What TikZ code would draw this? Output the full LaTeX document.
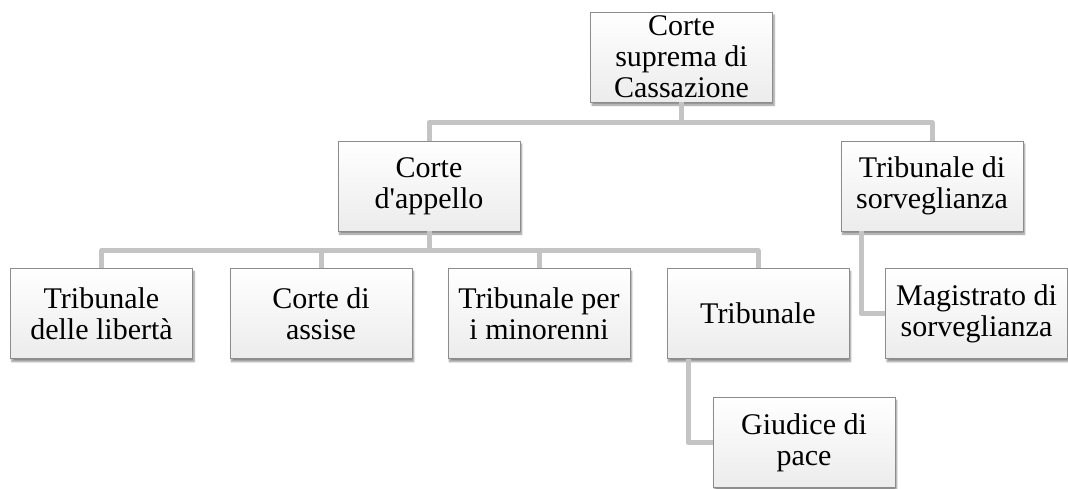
\documentclass[tikz,border=0pt]{standalone}
\usepackage{fontspec}
\setmainfont{Liberation Serif}
\usepackage{tikz}
\usetikzlibrary{shadows.blur}

\definecolor{boxline}{RGB}{140,140,140}
\definecolor{linkgray}{RGB}{196,196,196}

\begin{document}
\begin{tikzpicture}[x=1pt,y=-1pt,
    court/.style={draw=boxline, line width=0.8pt, top color=white, bottom color=gray!15,
      minimum width=182pt, minimum height=90pt, inner sep=2pt, align=center,
      font=\fontsize{30}{31}\selectfont,
      blur shadow={shadow xshift=1.5pt, shadow yshift=-3pt, shadow blur steps=6, shadow opacity=45}},
    link/.style={draw=linkgray, line width=5pt, line join=round}]
      \useasboundingbox (0,0) rectangle (1068,488);
      % the courts
      \node[court] (cass) at (681.5,57) {Corte\\suprema di\\Cassazione};
      \node[court] (app) at (429,186) {Corte\\d\textquotesingle appello};
      \node[court] (sorv) at (932,186) {Tribunale di\\sorveglianza};
      \node[court] (lib) at (101.5,313.5) {Tribunale\\delle libertà};
      \node[court] (ass) at (321,313.5) {Corte di\\assise};
      \node[court] (min) at (539,313.5) {Tribunale per\\i minorenni};
      \node[court] (trib) at (758,313.5) {Tribunale};
      \node[court] (mag) at (976.5,313.5) {Magistrato di\\sorveglianza};
      \node[court] (pace) at (804,442.5) {Giudice di\\pace};
      % the links
      \draw[link] (cass.south) -- ++(0,20) -| (app.north);
      \draw[link] (cass.south) -- ++(0,20) -| (sorv.north);
      \draw[link] (app.south) -- ++(0,19) -| (lib.north);
      \draw[link] (app.south) -- ++(0,19) -| (ass.north);
      \draw[link] (app.south) -- ++(0,19) -| (min.north);
      \draw[link] (app.south) -- ++(0,19) -| (trib.north);
      \draw[link] ([xshift=-70pt]trib.south) |- (pace.west);
      \draw[link] ([xshift=-71pt]sorv.south) |- (mag.west);
    \end{tikzpicture}
\end{document}
